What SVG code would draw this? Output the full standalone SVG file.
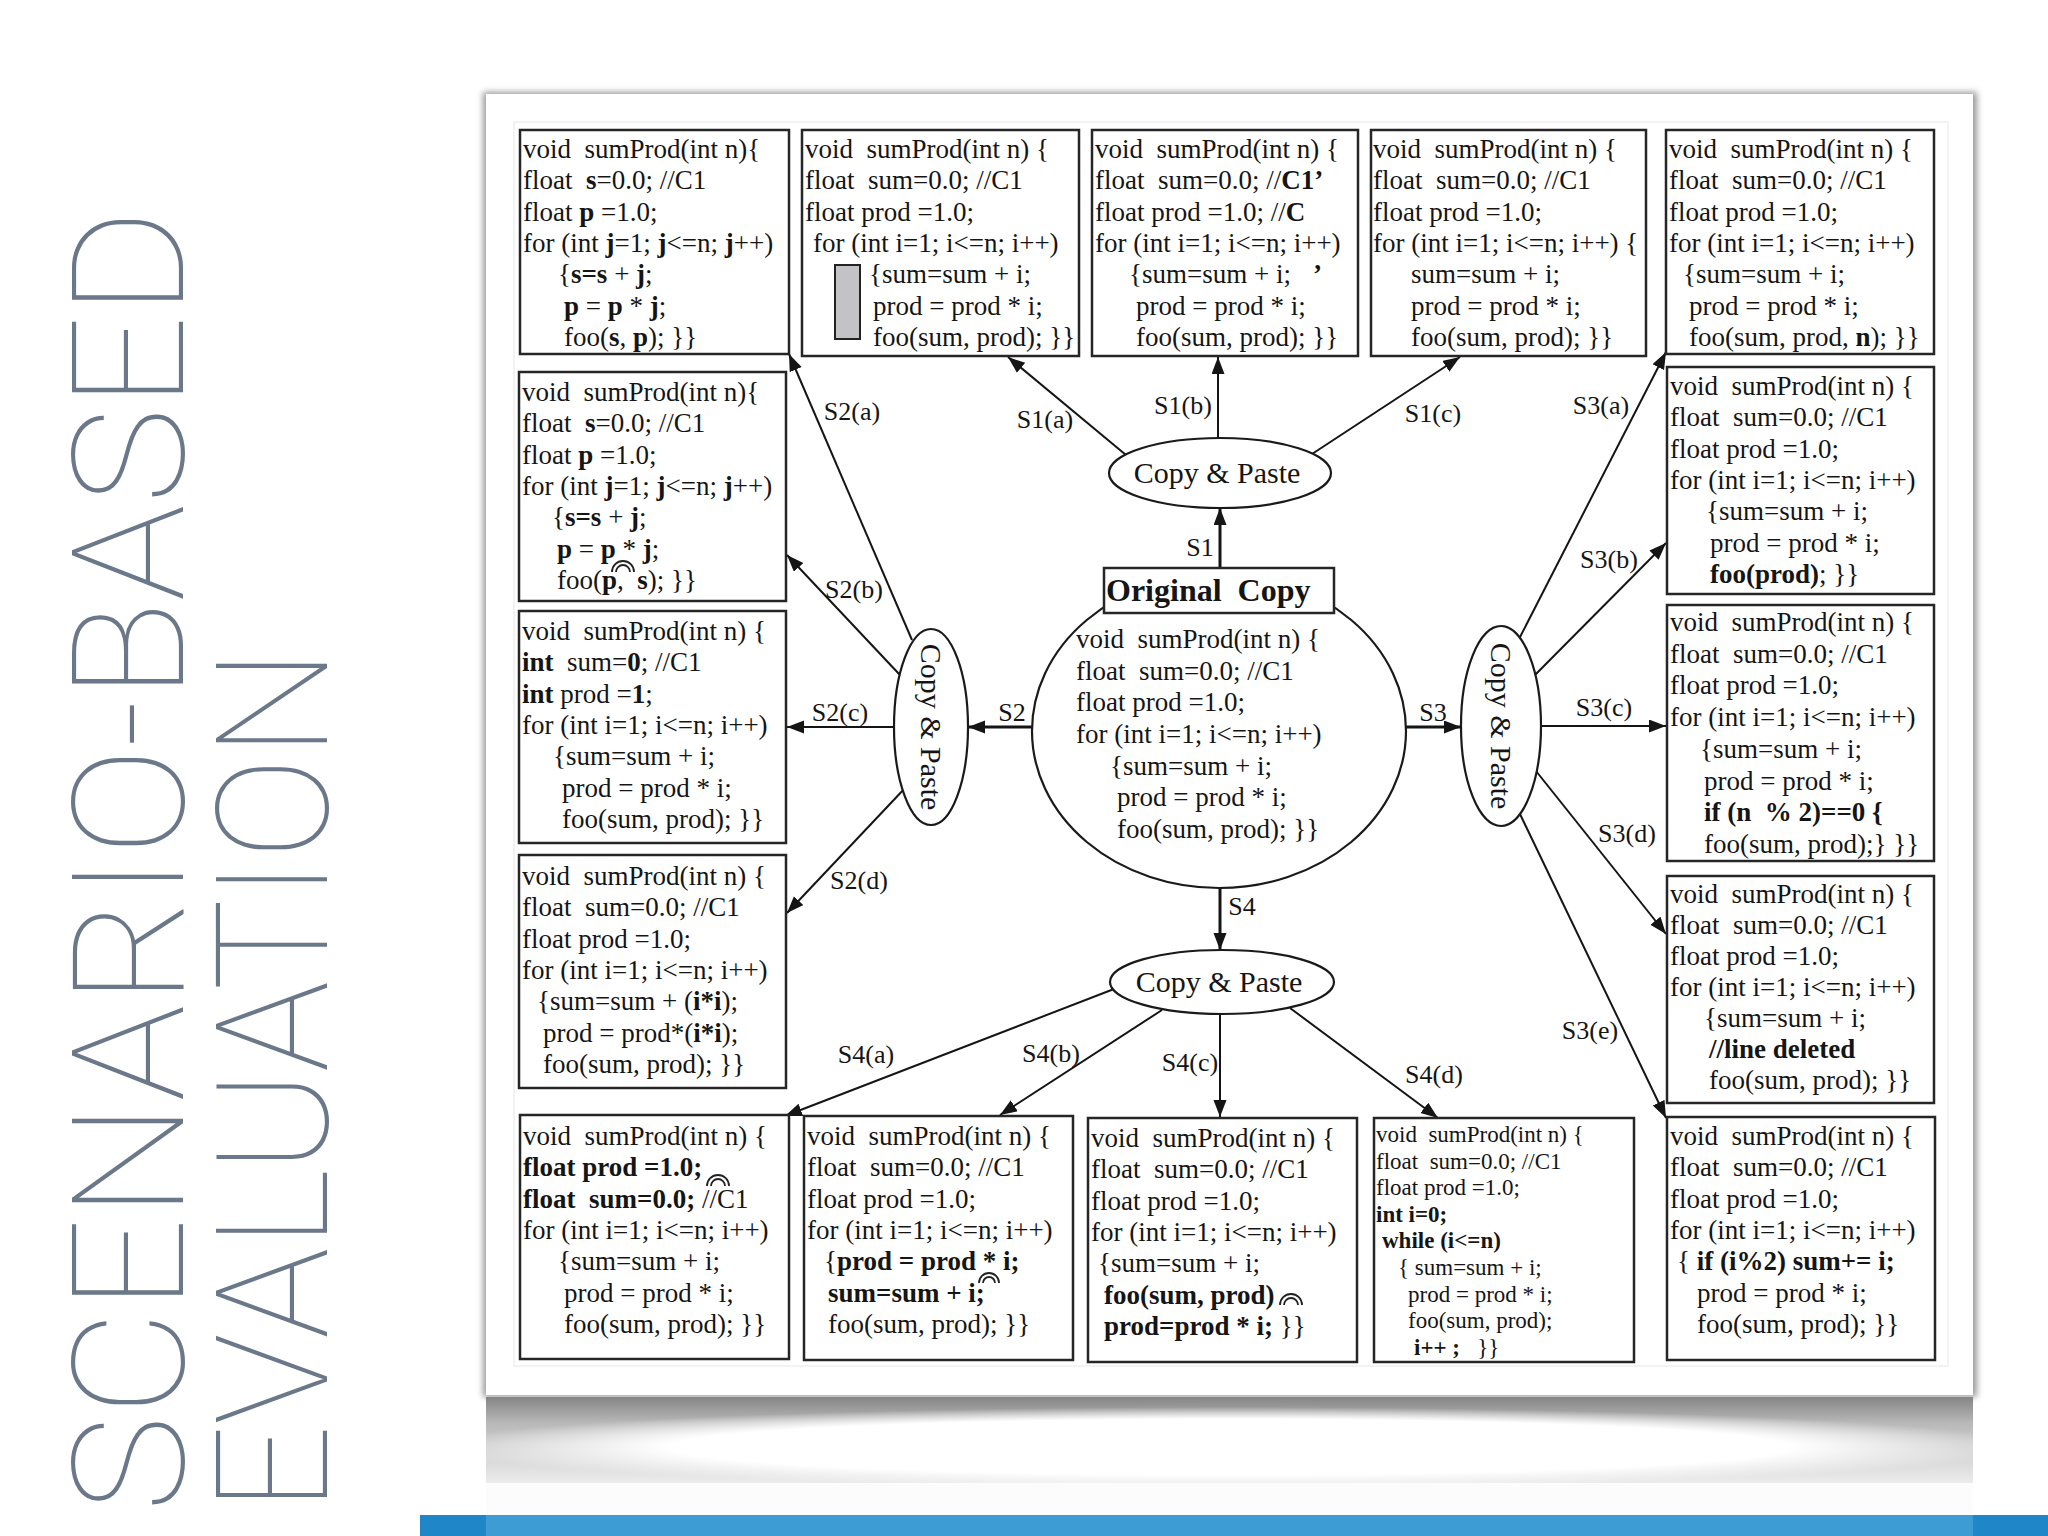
<svg xmlns="http://www.w3.org/2000/svg" width="2048" height="1536" viewBox="0 0 2048 1536">
<defs>
<style>
text{white-space:pre}
.c{font-family:'Liberation Serif','Times New Roman',serif;font-size:27px;fill:#151515}
.s{font-size:23px}
.b{font-weight:bold}
.box{fill:#fff;stroke:#262626;stroke-width:2.5}
.ell{fill:#fff;stroke:#1a1a1a;stroke-width:2.2}
.lbl{font-family:'Liberation Serif','Times New Roman',serif;font-size:26px;fill:#151515;text-anchor:middle}
.cp{font-family:'Liberation Serif','Times New Roman',serif;font-size:30px;fill:#151515;text-anchor:middle}
.e{stroke:#151515;stroke-width:2;fill:none;marker-end:url(#ah)}
.t{stroke-width:3}
.arc{fill:none;stroke:#222;stroke-width:1.8}
.title{font-family:Roboto,Lato,'Open Sans',sans-serif;font-weight:100;font-size:156px;fill:#6b7889}
</style>
<marker id="ah" markerUnits="userSpaceOnUse" markerWidth="18" markerHeight="14" refX="17" refY="6.5" orient="auto">
<path d="M0,0 L17,6.5 L0,13 z" fill="#151515"/>
</marker>
<filter id="blur" x="-5%" y="-5%" width="110%" height="110%"><feGaussianBlur stdDeviation="3"/></filter>
<linearGradient id="refl" x1="0" y1="0" x2="0" y2="1">
<stop offset="0" stop-color="#858585"/>
<stop offset="0.3" stop-color="#b8b8b8"/>
<stop offset="1" stop-color="#ececec"/>
</linearGradient>
<radialGradient id="rg" cx="0.5" cy="0.5" r="0.5">
<stop offset="0" stop-color="#fff" stop-opacity="1"/>
<stop offset="0.7" stop-color="#fff" stop-opacity="1"/>
<stop offset="1" stop-color="#fff" stop-opacity="0"/>
</radialGradient>
</defs>
<rect width="2048" height="1536" fill="#fff"/>

<g id="title">
<text class="title" transform="translate(183,1512) rotate(-90)" x="0" y="0" textLength="1303" lengthAdjust="spacingAndGlyphs">SCENARIO-BASED</text>
<text class="title" transform="translate(327,1512) rotate(-90)" x="0" y="0" textLength="863" lengthAdjust="spacingAndGlyphs">EVALUATION</text>
</g>

<g id="panel">
<rect x="483" y="92" width="1494" height="1305" fill="#9a9a9a" filter="url(#blur)"/>
<rect x="486" y="94" width="1487" height="1301" fill="#fff"/>
<rect x="514" y="122" width="1434" height="1244" fill="none" stroke="#e6e6e6" stroke-width="1"/>
<rect x="486" y="1397" width="1487" height="86" fill="url(#refl)"/>
<ellipse cx="1230" cy="1447" rx="800" ry="40" fill="url(#rg)"/>
<rect x="486" y="1483" width="1487" height="32" fill="#fcfcfc"/>
<rect x="420" y="1515" width="1628" height="21" fill="#1f87c7"/>
<rect x="486" y="1515" width="1487" height="21" fill="#3c9cd3"/>
</g>

<g id="connectors">
<line class="e t" x1="1220" y1="568" x2="1220" y2="508"/>
<line class="e" x1="1126" y1="455" x2="1008" y2="357"/>
<line class="e" x1="1218" y1="438" x2="1218" y2="357"/>
<line class="e" x1="1312" y1="454" x2="1460" y2="357"/>
<line class="e t" x1="1032" y1="727" x2="968" y2="727"/>
<line class="e" x1="912" y1="640" x2="789" y2="354"/>
<line class="e" x1="900" y1="675" x2="787" y2="555"/>
<line class="e" x1="894" y1="727" x2="787" y2="727"/>
<line class="e" x1="906" y1="787" x2="787" y2="913"/>
<line class="e t" x1="1406" y1="727" x2="1461" y2="727"/>
<line class="e" x1="1519" y1="639" x2="1666" y2="352"/>
<line class="e" x1="1535" y1="675" x2="1666" y2="543"/>
<line class="e" x1="1541" y1="726" x2="1666" y2="726"/>
<line class="e" x1="1536" y1="771" x2="1666" y2="934"/>
<line class="e" x1="1519" y1="812" x2="1666" y2="1118"/>
<line class="e t" x1="1220" y1="888" x2="1220" y2="950"/>
<line class="e" x1="1114" y1="989" x2="785" y2="1116"/>
<line class="e" x1="1162" y1="1010" x2="1000" y2="1115"/>
<line class="e" x1="1220" y1="1014" x2="1220" y2="1117"/>
<line class="e" x1="1290" y1="1008" x2="1438" y2="1118"/>
<g id="edge-labels">
<text class="lbl" x="1200" y="556">S1</text>
<text class="lbl" x="1045" y="428">S1(a)</text>
<text class="lbl" x="1183" y="414">S1(b)</text>
<text class="lbl" x="1433" y="422">S1(c)</text>
<text class="lbl" x="1012" y="721">S2</text>
<text class="lbl" x="852" y="420">S2(a)</text>
<text class="lbl" x="854" y="598">S2(b)</text>
<text class="lbl" x="840" y="721">S2(c)</text>
<text class="lbl" x="859" y="889">S2(d)</text>
<text class="lbl" x="1433" y="721">S3</text>
<text class="lbl" x="1601" y="414">S3(a)</text>
<text class="lbl" x="1609" y="568">S3(b)</text>
<text class="lbl" x="1604" y="716">S3(c)</text>
<text class="lbl" x="1627" y="842">S3(d)</text>
<text class="lbl" x="1590" y="1039">S3(e)</text>
<text class="lbl" x="1242" y="915">S4</text>
<text class="lbl" x="866" y="1063">S4(a)</text>
<text class="lbl" x="1051" y="1062">S4(b)</text>
<text class="lbl" x="1190" y="1071">S4(c)</text>
<text class="lbl" x="1434" y="1083">S4(d)</text>
</g>
</g>

<g id="original">
<ellipse class="ell" cx="1219" cy="731" rx="187" ry="157"/>
<rect class="box" x="1104" y="568" width="230" height="45"/>
<text class="c b" x="1106" y="601" style="font-size:32px">Original  Copy</text>
<g class="c">
<text x="1076" y="648">void  sumProd(int n) {</text>
<text x="1076" y="680">float  sum=0.0; //C1</text>
<text x="1076" y="711">float prod =1.0;</text>
<text x="1076" y="743">for (int i=1; i&lt;=n; i++)</text>
<text x="1110" y="775">{sum=sum + i;</text>
<text x="1117" y="806">prod = prod * i;</text>
<text x="1117" y="838">foo(sum, prod); }}</text>
</g>
</g>

<g id="cp-top"><ellipse class="ell" cx="1220" cy="473" rx="111" ry="35"/><text class="cp" x="1217" y="483">Copy &amp; Paste</text></g>
<g id="cp-bottom"><ellipse class="ell" cx="1222" cy="982" rx="112" ry="32"/><text class="cp" x="1219" y="992">Copy &amp; Paste</text></g>
<g id="cp-left"><ellipse class="ell" cx="931" cy="727" rx="37" ry="98"/><text class="cp" transform="translate(931,727) rotate(90)" x="0" y="10">Copy &amp; Paste</text></g>
<g id="cp-right"><ellipse class="ell" cx="1501" cy="726" rx="40" ry="100"/><text class="cp" transform="translate(1501,726) rotate(90)" x="0" y="10">Copy &amp; Paste</text></g>

<g id="box-s1a">
<rect class="box" x="802" y="130" width="277" height="226"/>
<rect x="835" y="265" width="25" height="74" fill="#c3c3c7" stroke="#222" stroke-width="2"/>
<g class="c">
<text x="805" y="158">void  sumProd(int n) {</text>
<text x="805" y="189.3">float  sum=0.0; //C1</text>
<text x="805" y="220.6">float prod =1.0;</text>
<text x="813" y="251.9">for (int i=1; i&lt;=n; i++)</text>
<text x="869" y="283.2">{sum=sum + i;</text>
<text x="873" y="314.5">prod = prod * i;</text>
<text x="873" y="345.8">foo(sum, prod); }}</text>
</g>
</g>

<g id="box-s2a">
<rect class="box" x="520" y="130" width="269" height="224"/>
<g class="c">
<text x="523" y="158">void  sumProd(int n){</text>
<text x="523" y="189.3">float  <tspan class="b">s</tspan>=0.0; //C1</text>
<text x="523" y="220.6">float <tspan class="b">p</tspan> =1.0;</text>
<text x="523" y="251.9">for (int <tspan class="b">j</tspan>=1; <tspan class="b">j</tspan>&lt;=n; <tspan class="b">j</tspan>++)</text>
<text x="558" y="283.2">{<tspan class="b">s=s</tspan> + <tspan class="b">j</tspan>;</text>
<text x="564" y="314.5"><tspan class="b">p</tspan> = <tspan class="b">p</tspan> * <tspan class="b">j</tspan>;</text>
<text x="564" y="345.8">foo(<tspan class="b">s</tspan>, <tspan class="b">p</tspan>); }}</text>
</g>
</g>

<g id="box-s1b">
<rect class="box" x="1092" y="130" width="266" height="226"/>
<g class="c">
<text x="1095" y="158">void  sumProd(int n) {</text>
<text x="1095" y="189.3">float  sum=0.0; //<tspan class="b">C1’</tspan></text>
<text x="1095" y="220.6">float prod =1.0; //<tspan class="b">C</tspan></text>
<text x="1095" y="251.9">for (int i=1; i&lt;=n; i++)</text>
<text x="1129" y="283.2">{sum=sum + i;</text>
<text class="b" x="1313" y="283.2">’</text>
<text x="1136" y="314.5">prod = prod * i;</text>
<text x="1136" y="345.8">foo(sum, prod); }}</text>
</g>
</g>

<g id="box-s1c">
<rect class="box" x="1371" y="130" width="275" height="226"/>
<g class="c">
<text x="1373" y="158">void  sumProd(int n) {</text>
<text x="1373" y="189.3">float  sum=0.0; //C1</text>
<text x="1373" y="220.6">float prod =1.0;</text>
<text x="1373" y="251.9">for (int i=1; i&lt;=n; i++) {</text>
<text x="1411" y="283.2">sum=sum + i;</text>
<text x="1411" y="314.5">prod = prod * i;</text>
<text x="1411" y="345.8">foo(sum, prod); }}</text>
</g>
</g>

<g id="box-s3a">
<rect class="box" x="1666" y="130" width="268" height="224"/>
<g class="c">
<text x="1669" y="158">void  sumProd(int n) {</text>
<text x="1669" y="189.3">float  sum=0.0; //C1</text>
<text x="1669" y="220.6">float prod =1.0;</text>
<text x="1669" y="251.9">for (int i=1; i&lt;=n; i++)</text>
<text x="1683" y="283.2">{sum=sum + i;</text>
<text x="1689" y="314.5">prod = prod * i;</text>
<text x="1689" y="345.8">foo(sum, prod, <tspan class="b">n</tspan>); }}</text>
</g>
</g>

<g id="box-s2b">
<rect class="box" x="519" y="372" width="267" height="229"/>
<path class="arc" d="M612,572 A11,11 0 0 1 634,572 M616,572 A7,7 0 0 1 630,572"/>
<g class="c">
<text x="522" y="401">void  sumProd(int n){</text>
<text x="522" y="432.3">float  <tspan class="b">s</tspan>=0.0; //C1</text>
<text x="522" y="463.6">float <tspan class="b">p</tspan> =1.0;</text>
<text x="522" y="494.9">for (int <tspan class="b">j</tspan>=1; <tspan class="b">j</tspan>&lt;=n; <tspan class="b">j</tspan>++)</text>
<text x="552" y="526.2">{<tspan class="b">s=s</tspan> + <tspan class="b">j</tspan>;</text>
<text x="557" y="557.5"><tspan class="b">p</tspan> = <tspan class="b">p</tspan> * <tspan class="b">j</tspan>;</text>
<text x="557" y="588.8">foo(<tspan class="b">p</tspan>,  <tspan class="b">s</tspan>); }}</text>
</g>
</g>

<g id="box-s2c">
<rect class="box" x="519" y="611" width="267" height="232"/>
<g class="c">
<text x="522" y="640">void  sumProd(int n) {</text>
<text x="522" y="671.3"><tspan class="b">int</tspan>  sum=<tspan class="b">0</tspan>; //C1</text>
<text x="522" y="702.6"><tspan class="b">int</tspan> prod =<tspan class="b">1</tspan>;</text>
<text x="522" y="733.9">for (int i=1; i&lt;=n; i++)</text>
<text x="553" y="765.2">{sum=sum + i;</text>
<text x="562" y="796.5">prod = prod * i;</text>
<text x="562" y="827.8">foo(sum, prod); }}</text>
</g>
</g>

<g id="box-s2d">
<rect class="box" x="519" y="855" width="267" height="233"/>
<g class="c">
<text x="522" y="885">void  sumProd(int n) {</text>
<text x="522" y="916.3">float  sum=0.0; //C1</text>
<text x="522" y="947.6">float prod =1.0;</text>
<text x="522" y="978.9">for (int i=1; i&lt;=n; i++)</text>
<text x="537" y="1010.2">{sum=sum + (<tspan class="b">i*i</tspan>);</text>
<text x="543" y="1041.5">prod = prod*(<tspan class="b">i*i</tspan>);</text>
<text x="543" y="1072.8">foo(sum, prod); }}</text>
</g>
</g>

<g id="box-s3b">
<rect class="box" x="1667" y="367" width="267" height="227"/>
<g class="c">
<text x="1670" y="395">void  sumProd(int n) {</text>
<text x="1670" y="426.3">float  sum=0.0; //C1</text>
<text x="1670" y="457.6">float prod =1.0;</text>
<text x="1670" y="488.9">for (int i=1; i&lt;=n; i++)</text>
<text x="1706" y="520.2">{sum=sum + i;</text>
<text x="1710" y="551.5">prod = prod * i;</text>
<text x="1710" y="582.8"><tspan class="b">foo(prod)</tspan>; }}</text>
</g>
</g>

<g id="box-s3c">
<rect class="box" x="1667" y="605" width="267" height="256"/>
<g class="c">
<text x="1670" y="631">void  sumProd(int n) {</text>
<text x="1670" y="662.7">float  sum=0.0; //C1</text>
<text x="1670" y="694.4">float prod =1.0;</text>
<text x="1670" y="726.1">for (int i=1; i&lt;=n; i++)</text>
<text x="1700" y="757.8">{sum=sum + i;</text>
<text x="1704" y="789.5">prod = prod * i;</text>
<text class="b" x="1704" y="821.2">if (n  % 2)==0 {</text>
<text x="1704" y="852.9">foo(sum, prod);} }}</text>
</g>
</g>

<g id="box-s3d">
<rect class="box" x="1667" y="876" width="267" height="227"/>
<g class="c">
<text x="1670" y="903">void  sumProd(int n) {</text>
<text x="1670" y="934">float  sum=0.0; //C1</text>
<text x="1670" y="965">float prod =1.0;</text>
<text x="1670" y="996">for (int i=1; i&lt;=n; i++)</text>
<text x="1704" y="1027">{sum=sum + i;</text>
<text class="b" x="1709" y="1058">//line deleted</text>
<text x="1709" y="1089">foo(sum, prod); }}</text>
</g>
</g>

<g id="box-s3e">
<rect class="box" x="1667" y="1117" width="268" height="243"/>
<g class="c">
<text x="1670" y="1145">void  sumProd(int n) {</text>
<text x="1670" y="1176.3">float  sum=0.0; //C1</text>
<text x="1670" y="1207.6">float prod =1.0;</text>
<text x="1670" y="1238.9">for (int i=1; i&lt;=n; i++)</text>
<text x="1677" y="1270.2">{ <tspan class="b">if (i%2) sum+= i;</tspan></text>
<text x="1697" y="1301.5">prod = prod * i;</text>
<text x="1697" y="1332.8">foo(sum, prod); }}</text>
</g>
</g>

<g id="box-s4a">
<rect class="box" x="520" y="1115" width="269" height="244"/>
<path class="arc" d="M707,1186 A11,11 0 0 1 729,1186 M711,1186 A7,7 0 0 1 725,1186"/>
<g class="c">
<text x="523" y="1145">void  sumProd(int n) {</text>
<text class="b" x="523" y="1176.3">float prod =1.0;</text>
<text x="523" y="1207.6"><tspan class="b">float  sum=0.0;</tspan> //C1</text>
<text x="523" y="1238.9">for (int i=1; i&lt;=n; i++)</text>
<text x="558" y="1270.2">{sum=sum + i;</text>
<text x="564" y="1301.5">prod = prod * i;</text>
<text x="564" y="1332.8">foo(sum, prod); }}</text>
</g>
</g>

<g id="box-s4b">
<rect class="box" x="804" y="1116" width="269" height="244"/>
<path class="arc" d="M979,1283 A10,10 0 0 1 999,1283 M983,1283 A6,6 0 0 1 995,1283"/>
<g class="c">
<text x="807" y="1145">void  sumProd(int n) {</text>
<text x="807" y="1176.3">float  sum=0.0; //C1</text>
<text x="807" y="1207.6">float prod =1.0;</text>
<text x="807" y="1238.9">for (int i=1; i&lt;=n; i++)</text>
<text x="824" y="1270.2">{<tspan class="b">prod = prod * i;</tspan></text>
<text class="b" x="828" y="1301.5">sum=sum + i;</text>
<text x="828" y="1332.8">foo(sum, prod); }}</text>
</g>
</g>

<g id="box-s4c">
<rect class="box" x="1088" y="1118" width="269" height="244"/>
<path class="arc" d="M1280,1305 A11,11 0 0 1 1302,1305 M1284,1305 A7,7 0 0 1 1298,1305"/>
<g class="c">
<text x="1091" y="1147">void  sumProd(int n) {</text>
<text x="1091" y="1178.3">float  sum=0.0; //C1</text>
<text x="1091" y="1209.6">float prod =1.0;</text>
<text x="1091" y="1240.9">for (int i=1; i&lt;=n; i++)</text>
<text x="1098" y="1272.2">{sum=sum + i;</text>
<text class="b" x="1104" y="1303.5">foo(sum, prod)</text>
<text x="1104" y="1334.8"><tspan class="b">prod=prod * i;</tspan> }}</text>
</g>
</g>

<g id="box-s4d">
<rect class="box" x="1374" y="1118" width="260" height="244"/>
<g class="c s">
<text x="1376" y="1142">void  sumProd(int n) {</text>
<text x="1376" y="1168.6">float  sum=0.0; //C1</text>
<text x="1376" y="1195.2">float prod =1.0;</text>
<text class="b" x="1376" y="1221.8">int i=0;</text>
<text class="b" x="1382" y="1248.4">while (i&lt;=n)</text>
<text x="1398" y="1275">{ sum=sum + i;</text>
<text x="1408" y="1301.6">prod = prod * i;</text>
<text x="1408" y="1328.2">foo(sum, prod);</text>
<text x="1414" y="1354.8"><tspan class="b">i++ ;</tspan>   }}</text>
</g>
</g>
</svg>
